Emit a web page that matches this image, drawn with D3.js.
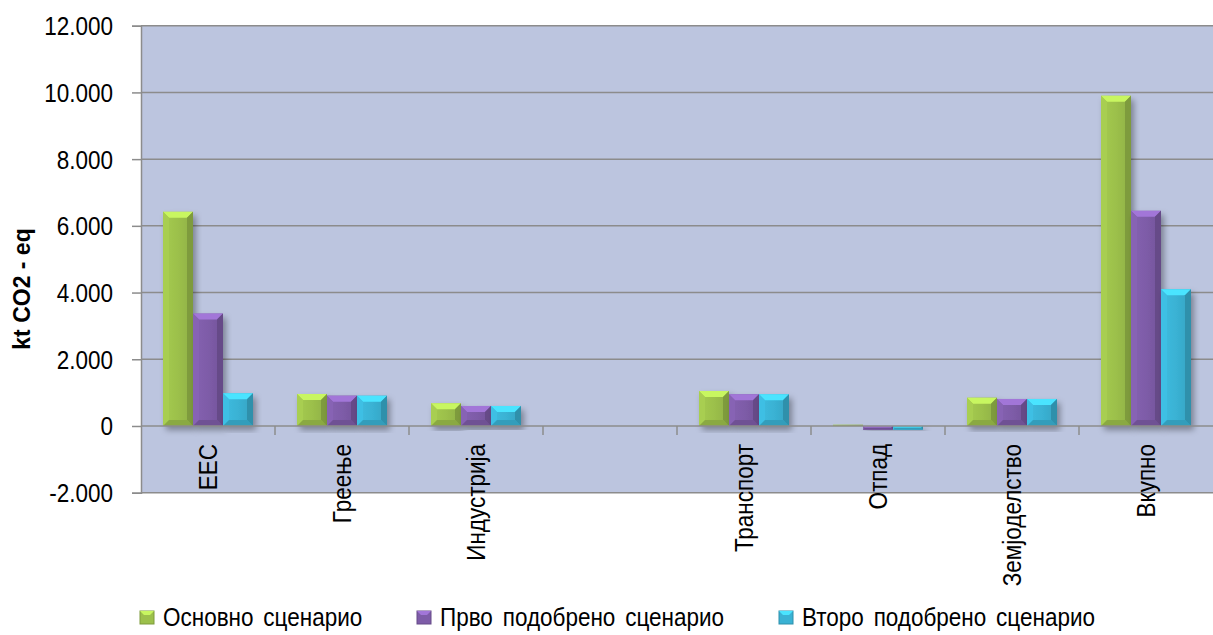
<!DOCTYPE html>
<html>
<head>
<meta charset="utf-8">
<script src="https://cdn.jsdelivr.net/npm/d3@7"></script>
<style>
  body { margin: 0; background: #fff; }
  svg text { font-family: "Liberation Sans", Arial, sans-serif; fill: #000; }
</style>
</head>
<body>
<script>
// categories (one empty slot between Индустрија and Транспорт)
var categories = ["ЕЕС", "Греење", "Индустрија", "", "Транспорт", "Отпад", "Земјоделство", "Вкупно"];
var seriesNames = ["Основно сценарио", "Прво подобрено сценарио", "Второ подобрено сценарио"];
var osnovno = [6420, 960, 680, null, 1050, 40, 850, 9900];
var prvo    = [3370, 910, 600, null, 950, -110, 810, 6450];
var vtoro   = [980, 910, 600, null, 950, -110, 810, 4100];
var yTicks = [-2000, 0, 2000, 4000, 6000, 8000, 10000, 12000];
var colors = ["#9cc04b", "#7e5ca8", "#3ab2d4"];

var W = 1213, H = 635;
var plotL = 141, plotR = 1213, plotT = 25.7, plotB = 492.7;
var narrow = "scale(0.9,1)"; // reference font is condensed

var svg = d3.select("body").append("svg")
    .attr("width", W)
    .attr("height", H);

var defs = svg.append("defs");
var f = defs.append("filter").attr("id", "shadow")
    .attr("x", "-20%").attr("y", "-10%").attr("width", "150%").attr("height", "130%");
f.append("feDropShadow").attr("dx", 3).attr("dy", 4).attr("stdDeviation", 3)
    .attr("flood-color", "#000").attr("flood-opacity", 0.35);

colors.forEach(function(c, i) {
  var g = defs.append("linearGradient").attr("id", "grad" + i)
      .attr("x1", 0).attr("x2", 1).attr("y1", 0).attr("y2", 0);
  g.append("stop").attr("offset", "0%").attr("stop-color", d3.color(c).brighter(0.15));
  g.append("stop").attr("offset", "50%").attr("stop-color", c);
  g.append("stop").attr("offset", "100%").attr("stop-color", d3.color(c).darker(0.25));
});

var x = d3.scaleBand().domain(d3.range(categories.length)).range([plotL, plotR]).padding(0);
var xs = d3.scaleBand().domain([0, 1, 2]).range([22, x.bandwidth() - 22]).padding(0);
var y = d3.scaleLinear().domain([-2000, 12000]).range([plotB, plotT]);

// plot area
svg.append("rect")
    .attr("x", plotL).attr("y", y(12000))
    .attr("width", plotR - plotL).attr("height", y(-2000) - y(12000))
    .attr("fill", "#bcc5df");

// gridlines
svg.append("g").selectAll("line").data(yTicks.filter(function(d) { return d !== 0; }))
  .enter().append("line")
    .attr("x1", plotL).attr("x2", plotR)
    .attr("y1", function(d) { return y(d); }).attr("y2", function(d) { return y(d); })
    .attr("stroke", "#8c8c8c").attr("stroke-width", 1.5);

// y axis
var yAxis = d3.axisLeft(y).tickValues(yTicks)
    .tickSize(9)
    .tickFormat(function(d) {
      if (d === 0) return "0";
      return (d < 0 ? "-" : "") + d3.format(",")(Math.abs(d)).replace(/,/g, ".");
    });
var yg = svg.append("g").attr("transform", "translate(" + plotL + ",0)").call(yAxis);
yg.select(".domain").attr("stroke", "#8c8c8c").attr("stroke-width", 1.5);
yg.selectAll(".tick line").attr("stroke", "#8c8c8c").attr("stroke-width", 1.5);
yg.selectAll(".tick text")
    .attr("x", null)
    .attr("font-size", 25)
    .attr("transform", "translate(-28,0) " + narrow)
    .attr("dy", "0.36em");

// bars
var rows = categories.map(function(c, i) {
  return [osnovno[i], prvo[i], vtoro[i]];
});

var bars = svg.append("g");
rows.forEach(function(vals, ci) {
  vals.forEach(function(v, si) {
    if (v === null) return;
    var x0 = x(ci) + xs(si), w = xs.bandwidth();
    var y0 = Math.min(y(v), y(0)), h = Math.abs(y(v) - y(0));
    var g = bars.append("g");
    g.append("rect")
        .attr("x", x0).attr("y", y0).attr("width", w).attr("height", Math.max(h, 1.5))
        .attr("fill", "url(#grad" + si + ")")
        .attr("filter", "url(#shadow)");
    var b = Math.min(6, h / 2, w / 2);
    if (b < 1.5) return;
    var c = colors[si];
    var x1 = x0 + w, y1 = y0 + h;
    g.append("polygon")
        .attr("points", [[x0, y0], [x1, y0], [x1 - b, y0 + b], [x0 + b, y0 + b]].join(" "))
        .attr("fill", d3.color(c).brighter(0.7));
    g.append("polygon")
        .attr("points", [[x0, y0], [x0 + b, y0 + b], [x0 + b, y1 - b], [x0, y1]].join(" "))
        .attr("fill", d3.color(c).brighter(0.2));
    g.append("polygon")
        .attr("points", [[x1, y0], [x1 - b, y0 + b], [x1 - b, y1 - b], [x1, y1]].join(" "))
        .attr("fill", d3.color(c).darker(0.6));
    g.append("polygon")
        .attr("points", [[x0, y1], [x0 + b, y1 - b], [x1 - b, y1 - b], [x1, y1]].join(" "))
        .attr("fill", d3.color(c).darker(0.35));
  });
});

// zero line with category ticks
svg.append("line")
    .attr("x1", plotL).attr("x2", plotR)
    .attr("y1", y(0)).attr("y2", y(0))
    .attr("stroke", "#8c8c8c").attr("stroke-width", 1.5);
svg.append("g").selectAll("line").data(d3.range(1, categories.length))
  .enter().append("line")
    .attr("x1", function(d) { return x(d); }).attr("x2", function(d) { return x(d); })
    .attr("y1", y(0)).attr("y2", y(0) + 9)
    .attr("stroke", "#8c8c8c").attr("stroke-width", 1.5);

// category labels
svg.append("g").selectAll("text").data(categories)
  .enter().append("text")
    .attr("transform", function(d, i) {
      return "translate(" + (x(i) + x.bandwidth() / 2) + "," + (y(0) + 18) + ") rotate(-90) " + narrow;
    })
    .attr("text-anchor", "end")
    .attr("dy", "0.36em")
    .attr("font-size", 25)
    .text(function(d) { return d; });

// y title
svg.append("text")
    .attr("transform", "translate(22,289) rotate(-90)")
    .attr("text-anchor", "middle")
    .attr("dy", "0.36em")
    .attr("font-size", 23)
    .attr("font-weight", "bold")
    .text("kt CO2 - eq");

// legend
var legendX = [140, 417, 779];
var lg = svg.append("g");
seriesNames.forEach(function(n, i) {
  var s = lg.append("g").attr("transform", "translate(" + legendX[i] + ",617)");
  s.append("rect").attr("x", 0).attr("y", -6).attr("width", 14).attr("height", 13)
      .attr("fill", colors[i]).attr("stroke", d3.color(colors[i]).darker(0.6)).attr("stroke-width", 1);
  s.append("polygon").attr("points", "0,-6 14,-6 10,-2 4,-2").attr("fill", d3.color(colors[i]).brighter(0.7));
  s.append("text").attr("transform", "translate(23,0) " + narrow)
      .attr("dy", "0.36em").attr("font-size", 25).attr("word-spacing", 4).text(n);
});
</script>
</body>
</html>
